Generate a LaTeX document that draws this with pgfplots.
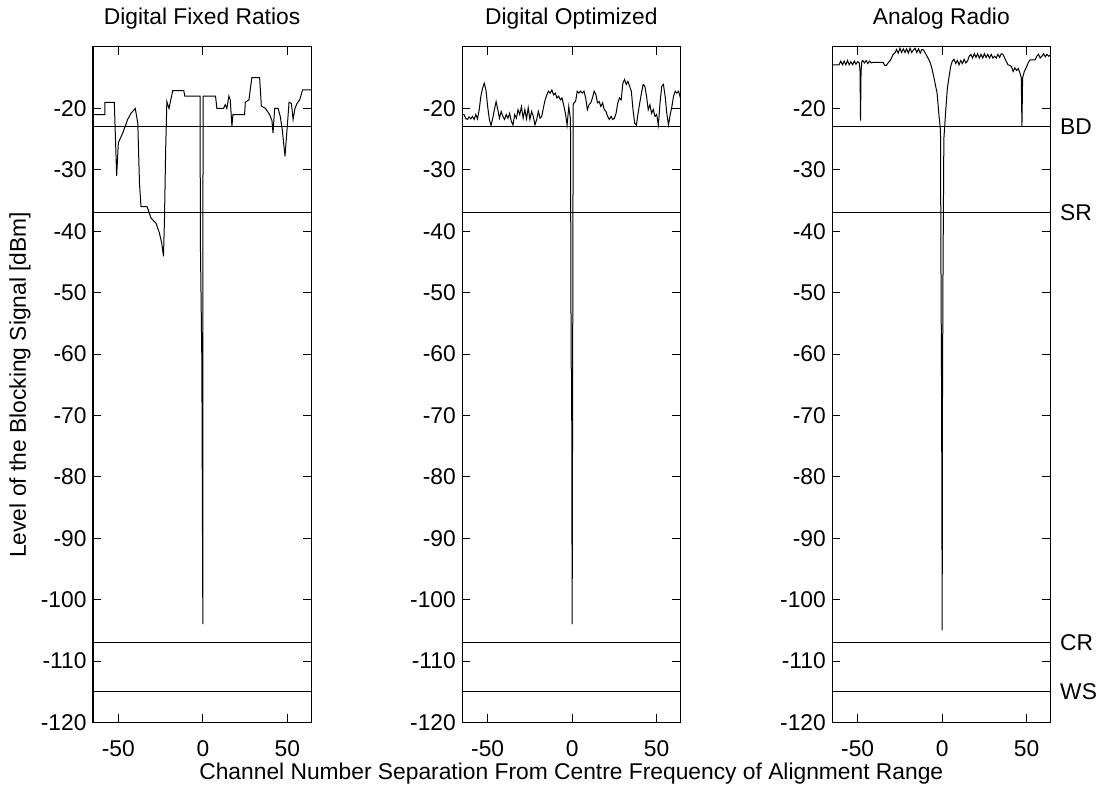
\documentclass[border=0pt]{standalone}
\usepackage{fontspec}
\setmainfont{Liberation Sans}
\usepackage{pgfplots}
\pgfplotsset{compat=1.18}
\newcommand{\fnt}{\fontsize{11.4}{13}\selectfont}
\newcommand{\hlines}{%
  \addplot coordinates {(-65,-23) (64,-23)};
  \addplot coordinates {(-65,-37) (64,-37)};
  \addplot coordinates {(-65,-107) (64,-107)};
  \addplot coordinates {(-65,-115) (64,-115)};
}
\newcommand{\ptitle}[1]{\node[anchor=base, inner sep=0pt, yshift=11pt, font=\fnt] at (rel axis cs:0.5,1) {#1};}
\begin{document}
\fnt
\begin{tikzpicture}
\useasboundingbox (0,0) rectangle (550.5pt,392.5pt);
\pgfplotsset{
  panel/.style={
    scale only axis, width=109pt, height=337.75pt,
    anchor=south west, clip=false,
    xmin=-65, xmax=64, ymin=-120, ymax=-10,
    xtick={-50,0,50}, xticklabels={-50,0,50},
    ytick={-120,-110,...,-20},
    yticklabels={-120,-110,-100,-90,-80,-70,-60,-50,-40,-30,-20},
    tick align=inside, major tick length=4pt,
    line width=0.5pt,
    major tick style={black, line width=0.5pt},
    axis line style={black, line width=0.5pt},
    tick label style={font=\fnt},
    xticklabel style={inner sep=0pt, yshift=-9pt},
    yticklabel style={inner sep=0pt, xshift=-3pt},
    every axis plot post/.append style={black, mark=none, line width=0.5pt},
  }
}
% Panel 1
\begin{axis}[panel, at={(46.5pt,31.25pt)}]
\addplot coordinates {(-65,-21) (-58,-21) (-58,-19) (-52.4,-19) (-52,-22.4) (-51,-31) (-50,-25.6) (-47.4,-24) (-44.5,-21.8) (-42.5,-20.8) (-40,-20) (-38.5,-22.4) (-37.5,-32.2) (-36.6,-36) (-33,-36) (-30.6,-37.9) (-27.7,-38.7) (-25.7,-40.3) (-24.3,-42) (-23.3,-44.1) (-22.7,-38) (-22,-26.7) (-21.3,-18.9) (-20,-20) (-19.2,-18.9) (-17.8,-17.1) (-11.3,-17.1) (-10.7,-18) (-1.6,-18) (-1.5,-41) (-0.6,-61) (-0.3,-83) (0,-104) (0.1,-18) (7.5,-18) (8.3,-20) (12.3,-20) (13.2,-19.4) (14.2,-20) (15.4,-18) (16.2,-18.6) (17.2,-22.9) (17.8,-21) (24.7,-21) (25.1,-19) (27.3,-18.6) (28,-17) (29,-15) (33.6,-15) (34.6,-19.6) (37,-20) (39.5,-21) (40.9,-22) (41.5,-24) (42.5,-20) (44.5,-20) (45.8,-21.3) (47,-23.5) (48.6,-27.8) (49.8,-23.5) (51,-19) (52.4,-19.2) (53.4,-21.8) (54.5,-20) (55.7,-19.2) (57.3,-18.6) (59,-17) (64,-17)};
\hlines
\ptitle{Digital Fixed Ratios}
\end{axis}
% Panel 2
\begin{axis}[panel, at={(231.15pt,31.25pt)},
  xlabel={Channel Number Separation From Centre Frequency of Alignment Range},
  xlabel style={at={(0.5,0)}, anchor=base, inner sep=0pt, yshift=-28.5pt, font=\fnt}]
\addplot coordinates {(-65,-21.0) (-64,-21.0) (-63,-21.6) (-62,-21.8) (-61,-21.4) (-60,-21.7) (-59,-21.3) (-58,-21.8) (-57,-21.0) (-56,-21.7) (-55,-20.2) (-54,-18.0) (-53,-16.7) (-52,-15.9) (-51,-17.0) (-50,-19.7) (-49,-21.8) (-48,-22.8) (-47,-21.6) (-46,-20.2) (-45,-18.9) (-44,-20.2) (-43,-21.6) (-42,-20.5) (-41,-21.3) (-40,-21.8) (-39,-21.0) (-38,-21.6) (-37,-20.8) (-36,-22.1) (-35,-22.7) (-34,-21.0) (-33,-21.6) (-32,-20.2) (-31,-21.0) (-30,-19.7) (-29,-21.6) (-28,-20.2) (-27,-21.7) (-26,-19.9) (-25,-21.8) (-24,-20.5) (-23,-21.3) (-22,-22.7) (-21,-21.8) (-20,-20.5) (-19,-21.6) (-18,-21.3) (-17,-19.9) (-16,-18.6) (-15,-17.8) (-14,-17.2) (-13,-17.5) (-12,-17.0) (-11,-17.8) (-10,-17.5) (-9,-18.3) (-8,-18.0) (-7,-18.6) (-6,-18.3) (-5,-19.5) (-4,-20.8) (-3,-22.7) (-2,-19.7) (-1,-21.8) (-0.6,-62) (-0.3,-63) (0,-104) (0.3,-62) (0.6,-19.5) (1,-19.1) (2,-18.9) (3,-17.2) (4,-17.5) (5,-17.2) (6,-17.5) (7,-17.2) (8,-18.3) (9,-20.2) (10,-19.4) (11,-19.1) (12,-18.3) (13,-17.2) (14,-17.7) (15,-19.1) (16,-18.9) (17,-19.7) (18,-19.1) (19,-20.2) (20,-20.5) (21,-21.3) (22,-21.8) (23,-21.3) (24,-21.8) (25,-21.6) (26,-20.8) (27,-19.1) (28,-18.3) (29,-18.6) (30,-15.9) (31,-15.3) (32,-16.1) (33,-15.6) (34,-16.4) (35,-17.2) (36,-20.2) (37,-22.4) (38,-22.7) (39,-20.8) (40,-19.1) (41,-17.5) (42,-16.1) (43,-16.4) (44,-18.0) (45,-20.2) (46,-19.4) (47,-20.8) (48,-20.2) (49,-21.3) (50,-21.0) (51,-22.7) (52,-19.1) (53,-16.4) (54,-16.1) (55,-18.0) (56,-20.8) (57,-22.7) (58,-21.0) (59,-19.7) (60,-18.0) (61,-17.2) (62,-17.5) (63,-17.2) (64,-18.3)};
\hlines
\ptitle{Digital Optimized}
\end{axis}
% Panel 3
\begin{axis}[panel, at={(416.15pt,31.25pt)}]
\addplot coordinates {(-65,-12.9) (-61,-12.9) (-60,-12.3) (-59,-12.9) (-58,-12.3) (-57,-12.9) (-56,-12.2) (-55,-12.9) (-54,-12.4) (-53,-12.9) (-52,-12.3) (-51,-12.8) (-50,-12.4) (-49,-12.6) (-48.6,-14) (-48.3,-22) (-48,-14) (-47.5,-12.3) (-47,-12.2) (-46,-12.6) (-45,-12.2) (-44,-12.7) (-43,-12.3) (-42,-12.6) (-41,-12.5) (-36,-12.5) (-35,-12.5) (-34,-13.0) (-33,-13.0) (-32,-12.6) (-31,-12.3) (-30,-11.8) (-29,-11.2) (-28,-11.0) (-27,-10.4) (-26,-11.0) (-25,-10.2) (-24,-10.9) (-23,-10.3) (-22,-10.9) (-21,-10.3) (-20,-11.0) (-19,-10.2) (-18,-10.9) (-17,-10.5) (-16,-10.2) (-15,-10.9) (-14,-10.3) (-13,-11.0) (-12,-10.4) (-11,-10.5) (-10,-11.0) (-9,-11.5) (-8,-12.0) (-7,-12.6) (-6,-13.6) (-5,-14.8) (-4,-16.2) (-3,-17.5) (-2,-20.8) (-1,-23.5) (-0.7,-46.5) (-0.35,-66) (-0.15,-85.6) (0,-105) (0.2,-66) (0.5,-46.5) (1,-25) (2,-20.8) (3,-17) (3.5,-15.9) (5,-13.2) (6,-12.3) (7,-12.0) (8,-12.7) (9,-12.2) (10,-12.9) (11,-12.2) (12,-12.7) (13,-12.0) (14,-12.6) (15,-12.3) (16,-11.5) (17,-11.2) (18,-11.8) (19,-11.1) (20,-11.7) (21,-11.1) (22,-11.8) (23,-11.2) (24,-11.8) (25,-11.1) (26,-11.7) (27,-11.2) (28,-11.8) (29,-11.2) (30,-11.8) (31,-11.5) (32,-11.8) (33,-11.2) (34,-11.7) (35,-11.1) (36,-11.2) (37,-11.8) (38,-12.4) (39,-12.9) (40,-13.0) (41,-13.2) (42,-14.0) (43,-13.4) (44,-13.8) (45,-13.5) (46,-14.2) (46.8,-15) (47.2,-22.9) (47.6,-15) (48.6,-14.0) (50,-13.2) (51,-12.5) (52,-12.1) (53,-12.1) (54,-12.1) (55,-12.1) (56,-11.5) (57,-11.2) (58,-11.8) (59,-11.5) (60,-11.1) (61,-11.6) (62,-11.2) (63,-11.5) (64,-11.3)};
\hlines
\ptitle{Analog Radio}
\node[anchor=west, inner sep=0pt, xshift=4.7pt, font=\fnt] at (axis cs:64,-23) {BD};
\node[anchor=west, inner sep=0pt, xshift=4.7pt, font=\fnt] at (axis cs:64,-37) {SR};
\node[anchor=west, inner sep=0pt, xshift=4.7pt, font=\fnt] at (axis cs:64,-107) {CR};
\node[anchor=west, inner sep=0pt, xshift=4.7pt, font=\fnt] at (axis cs:64,-115) {WS};
\end{axis}
\node[rotate=90, anchor=center, inner sep=0pt] at (10pt,200.1pt) {Level of the Blocking Signal [dBm]};
\end{tikzpicture}
\end{document}
